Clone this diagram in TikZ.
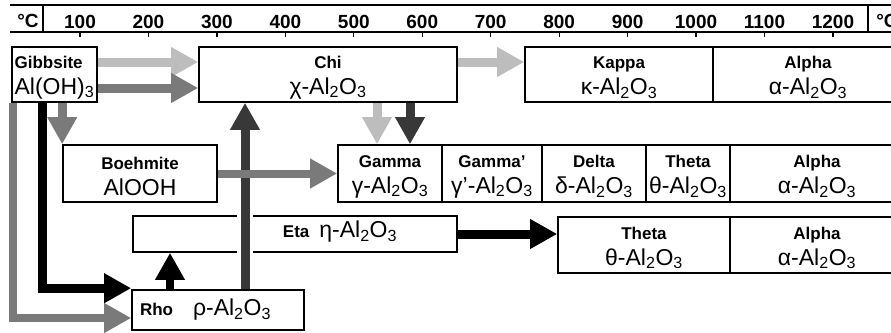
\documentclass[tikz,border=0pt]{standalone}
\usepackage{fontspec}
\setmainfont{Liberation Sans}
\usetikzlibrary{arrows.meta, positioning}

\definecolor{lightgrey}{HTML}{BDBDBD}
\definecolor{midgrey}{HTML}{7A7A7A}
\definecolor{darkgrey}{HTML}{383838}

\newcommand{\phasename}{\fontsize{17}{26}\selectfont\bfseries\rule{0pt}{18pt}}
\newcommand{\phaseform}{\fontsize{23}{26}\selectfont\mdseries}
\newcommand{\alumina}[1]{#1-Al\textsubscript{2}O\textsubscript{3}}

\begin{document}
\begin{tikzpicture}[x=1pt, y=-1pt,
  phase/.style={draw, line width=1.6pt, minimum height=55pt, inner sep=0pt,
                align=center, font=\fontsize{17}{26}\selectfont},
  scale line/.style={line width=1.6pt},
  tick label/.style={font=\fontsize{19}{21}\selectfont\bfseries, inner sep=0pt},
  flow/.style={line width=9pt, -{Triangle[length=27pt, width=28pt]}}
]
\useasboundingbox (0,0) rectangle (891,332);
\clip (0,0) rectangle (891,332);

% temperature scale
\draw[scale line] (10,5) -- (891,5);
\draw[scale line] (10,32) -- (891,32);
\draw[scale line] (43,5) -- (43,32);
\draw[scale line] (868,5) -- (868,32);
\node[tick label] (degl) at (28,21) {°C};
\node[tick label] (degr) at (887,21) {°C};
\foreach \t in {1,...,12}{
  \draw[line width=1.2pt] ({80+(\t-1)*68.45},32) -- ({80+(\t-1)*68.45},37);
  \node[tick label] (t\t) at ({80+(\t-1)*68.45},21.5) {\t00};
}

% phases
\node[phase, minimum width=85pt, align=left] (gibbsite) at (54.5,74.5)
  {{\phasename Gibbsite}\\{\phaseform Al(OH)\textsubscript{3}}};
\node[phase, minimum width=258pt] (chi) at (328,74.5)
  {{\phasename Chi}\\{\phaseform \alumina{χ}}};
\node[phase, minimum width=188pt] (kappa) at (619,74.5)
  {{\phasename Kappa}\\{\phaseform \alumina{κ}}};
\node[phase, minimum width=190pt] (alpha1) at (808,74.5)
  {{\phasename Alpha}\\{\phaseform \alumina{α}}};

\node[phase, minimum width=154pt, minimum height=57pt] (boehmite) at (140,173.5)
  {{\phasename Boehmite}\\{\phaseform AlOOH}};
\node[phase, minimum width=104pt, minimum height=57pt] (gamma) at (390,173.5)
  {{\phasename Gamma}\\{\phaseform \alumina{γ}}};
\node[phase, minimum width=100pt, minimum height=57pt] (gammap) at (492,173.5)
  {{\phasename Gamma'}\\{\phaseform \alumina{γ'}}};
\node[phase, minimum width=104pt, minimum height=57pt] (delta) at (594,173.5)
  {{\phasename Delta}\\{\phaseform \alumina{δ}}};
\node[phase, minimum width=84pt, minimum height=57pt] (theta1) at (688,173.5)
  {{\phasename Theta}\\{\phaseform \alumina{θ}}};
\node[phase, minimum width=174pt, minimum height=57pt] (alpha2) at (817,173.5)
  {{\phasename Alpha}\\{\phaseform \alumina{α}}};

\node[phase, minimum width=324pt, minimum height=36pt] (eta) at (295,234) {};
\node[inner sep=0pt] (etalabel) at (340,232)
  {{\fontsize{17}{20}\selectfont\bfseries Eta}\hspace{10pt}{\phaseform \alumina{η}}};
\node[phase, minimum width=172pt, minimum height=56pt] (theta2) at (644,245)
  {{\phasename Theta}\\{\phaseform \alumina{θ}}};
\node[phase, minimum width=174pt, minimum height=56pt] (alpha3) at (817,245)
  {{\phasename Alpha}\\{\phaseform \alumina{α}}};

\node[phase, minimum height=40pt, inner xsep=8pt, text width=156pt, align=left]
  (rho) at (218,310)
  {{\fontsize{17}{20}\selectfont\bfseries Rho}\hspace{20pt}{\phaseform \alumina{ρ}}};

% transformations
\coordinate (rhoeta) at ([xshift=-48pt]rho.north);
\coordinate (rhochi) at ([xshift=27pt]rho.north);
\coordinate (etalow) at (rhochi |- eta.south);
\coordinate (etahigh) at (rhochi |- eta.north);

\draw[flow, lightgrey] ([yshift=12.5pt]gibbsite.east) -- ([yshift=12.5pt]chi.west);
\draw[flow, midgrey] ([yshift=-13.5pt]gibbsite.east) -- ([yshift=-13.5pt]chi.west);
\draw[flow, lightgrey] ([yshift=12.5pt]chi.east) -- ([yshift=12.5pt]kappa.west);
\draw[flow, lightgrey] ([xshift=49pt]chi.south) -- ([xshift=-13pt]gamma.north);
\draw[flow, darkgrey] ([xshift=82pt]chi.south) -- ([xshift=20pt]gamma.north);
\draw[flow, midgrey] (gibbsite.south -| boehmite.north west) -- (boehmite.north west);
\draw[flow, midgrey, line width=8pt] ([xshift=2pt]gibbsite.south west)
  |- ([yshift=-8pt]rho.west);
\draw[flow, black] ([xshift=-12.5pt]gibbsite.south) |- ([yshift=1pt]rho.north west);
\draw[flow, black, line width=8pt] (rhoeta) -- (rhoeta |- eta.south);
\draw[white, line width=16pt] ([yshift=-5pt]etalow) -- ([yshift=5pt]etahigh);
\draw[flow, darkgrey] (rhochi) -- (rhochi |- chi.south);
\draw[flow, midgrey, line width=8pt] (boehmite.east) -- (gamma.west);
\draw[flow, black] (eta.east) -- (eta.east -| theta2.west);
\end{tikzpicture}
\end{document}
